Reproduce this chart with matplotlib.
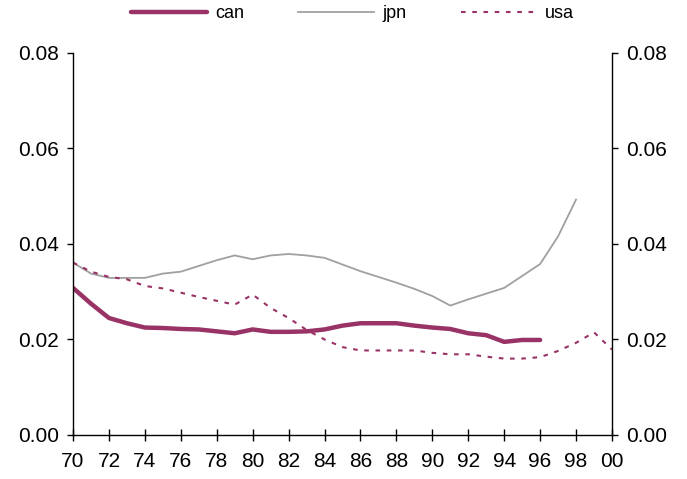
import numpy as np
import matplotlib
matplotlib.use("Agg")
import matplotlib.pyplot as plt

plt.rcParams['font.family'] = ['Liberation Sans', 'DejaVu Sans']

# --- DATA ---
years = list(range(70, 101))

can = [0.0308, 0.0275, 0.0245, 0.0234, 0.0225, 0.0224, 0.0222, 0.0221, 0.0217, 0.0213,
       0.0221, 0.0216, 0.0216, 0.0217, 0.0221, 0.0229, 0.0234, 0.0234, 0.0234, 0.0229,
       0.0225, 0.0222, 0.0213, 0.0209, 0.0195, 0.0199, 0.0199]

jpn = [0.0361, 0.0338, 0.0329, 0.0329, 0.0329, 0.0338, 0.0342, 0.0354, 0.0366, 0.0376,
       0.0368, 0.0376, 0.0379, 0.0376, 0.0371, 0.0357, 0.0343, 0.0331, 0.0319, 0.0306,
       0.0291, 0.0271, 0.0284, 0.0296, 0.0308, 0.0333, 0.0358, 0.0416, 0.0493]

usa = [0.0361, 0.0342, 0.0331, 0.0326, 0.0312, 0.0307, 0.0298, 0.0289, 0.0281, 0.0273,
       0.0294, 0.0266, 0.0245, 0.0220, 0.0200, 0.0184, 0.0177, 0.0177, 0.0177, 0.0177,
       0.0172, 0.0169, 0.0169, 0.0164, 0.0160, 0.0160, 0.0163, 0.0176, 0.0193, 0.0215,
       0.0179]

xticks = list(range(70, 101, 2))
xticklabels = ['%02d' % (y % 100) for y in xticks]
yticks = [0.0, 0.02, 0.04, 0.06, 0.08]

plum = '#993366'
grey = '#a0a0a0'

fig = plt.figure(figsize=(6.87, 4.79), dpi=100)
ax = fig.add_axes([0.1063, 0.0919, 0.7845, 0.7975])

ax.plot(years[:len(can)], can, color=plum, lw=3.2, label='can', solid_capstyle='round')
ax.plot(years[:len(jpn)], jpn, color=grey, lw=1.3, label='jpn')
ax.plot(years[:len(usa)], usa, color=plum, lw=1.5, ls=(0, (2.2, 3.2)), label='usa')

ax.set_xlim(70, 100)
ax.set_ylim(0, 0.08)
ax.set_xticks(xticks)
ax.set_xticklabels(xticklabels)
ax.set_yticks(yticks)
ax.set_yticklabels(['%.2f' % v for v in yticks])

ax.spines['top'].set_visible(False)
for s in ['left', 'right', 'bottom']:
    ax.spines[s].set_linewidth(1.0)

ax.tick_params(axis='y', direction='out', length=4, width=1, labelsize=15,
               left=True, right=True, labelleft=True, labelright=True, pad=6)
ax.tick_params(axis='x', direction='inout', length=8, width=1, labelsize=15, pad=8)

ax.legend(loc='center', bbox_to_anchor=(0.513, 0.971), bbox_transform=fig.transFigure,
          ncol=3, frameon=False, fontsize=13, handlelength=4.2, columnspacing=3.0,
          handletextpad=0.45, borderaxespad=0)

fig.savefig('out.png', dpi=100)
